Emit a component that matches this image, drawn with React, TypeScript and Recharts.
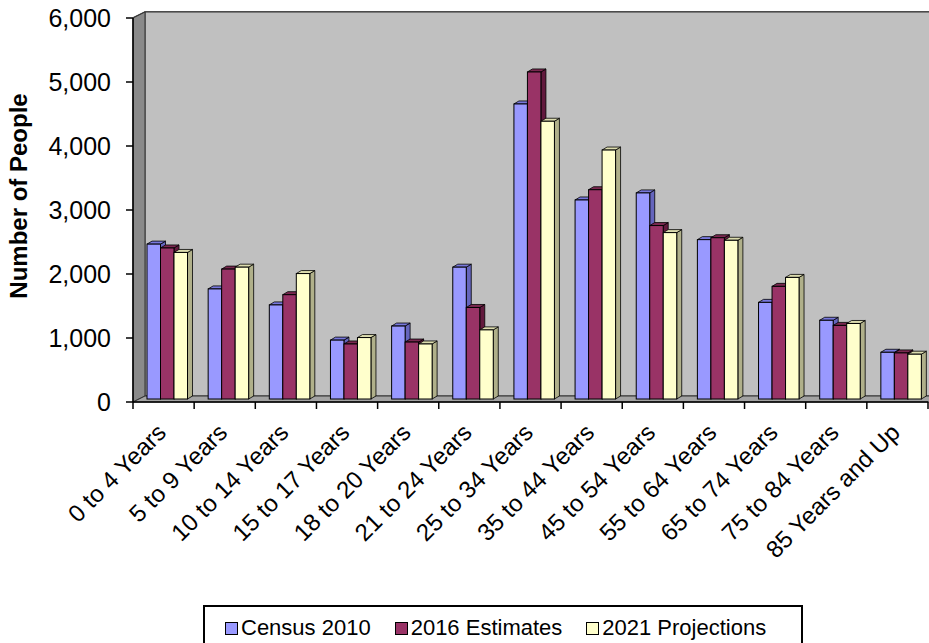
import React from 'react';
import * as RC from 'recharts';
import { BarChart, Bar, XAxis, YAxis, CartesianGrid, Legend } from 'recharts';

const categories = [
  '0 to 4 Years', '5 to 9 Years', '10 to 14 Years', '15 to 17 Years', '18 to 20 Years',
  '21 to 24 Years', '25 to 34 Years', '35 to 44 Years', '45 to 54 Years', '55 to 64 Years',
  '65 to 74 Years', '75 to 84 Years', '85 Years and Up',
];
const census2010 = [2420, 1720, 1470, 920, 1140, 2060, 4610, 3110, 3220, 2490, 1510, 1230, 730];
const estimates2016 = [2360, 2030, 1630, 860, 890, 1430, 5110, 3270, 2710, 2520, 1760, 1150, 720];
const projections2021 = [2290, 2060, 1960, 960, 860, 1080, 4340, 3890, 2600, 2480, 1900, 1180, 700];
const yTicks = [0, 1000, 2000, 3000, 4000, 5000, 6000];

const series = [
  { key: 'census', name: 'Census 2010', front: '#9999ff', top: '#7878dc', side: '#6565bd' },
  { key: 'est', name: '2016 Estimates', front: '#993366', top: '#7a2850', side: '#62193d' },
  { key: 'proj', name: '2021 Projections', front: '#ffffcc', top: '#dcdcae', side: '#b0b08a' },
];

const data = categories.map((name, i) => ({
  name,
  census: census2010[i],
  est: estimates2016[i],
  proj: projections2021[i],
}));

// chart size, front plot box and 3D wall offset
const W = 929;
const H = 643;
const L = 133;
const R = 928;
const T = 18;
const B = 402;
const XH = 20;
const WX = 12;
const WY = 6;
const BAND = (R - L) / categories.length;
const FONT = "Arial, 'Liberation Sans', sans-serif";

const usePlot = (RC as any).usePlotArea;

const Walls = () => {
  const area = usePlot ? usePlot() : null;
  const x0 = area ? area.x : L;
  const y0 = area ? area.y : T;
  const x1 = area ? area.x + area.width : R;
  const y1 = area ? area.y + area.height : B;
  return (
    <g>
      <rect x={x0 + WX} y={y0 - WY} width={x1 - x0 + 20} height={y1 - y0} fill="#c0c0c0" stroke="#333" strokeWidth={1} />
      <polygon points={`${x0},${y0} ${x0 + WX},${y0 - WY} ${x0 + WX},${y1 - WY} ${x0},${y1}`} fill="#8a8a8a" stroke="#333" strokeWidth={1} />
      <polygon points={`${x0},${y1} ${x0 + WX},${y1 - WY} ${x1 + WX + 20},${y1 - WY} ${x1 + 20},${y1}`} fill="#a3a3a3" stroke="#333" strokeWidth={1} />
    </g>
  );
};

const make3D = (front: string, top: string, side: string) => (props: any) => {
  const { x, y, width, height } = props;
  if (height == null || width == null) return <g />;
  const bx = x + 4;
  const by = y - 3;
  const d = 5;
  const dy = 3;
  return (
    <g>
      <polygon
        points={`${bx + width},${by} ${bx + width + d},${by - dy} ${bx + width + d},${by + height - dy} ${bx + width},${by + height}`}
        fill={side} stroke="#000" strokeWidth={0.8}
      />
      <polygon
        points={`${bx},${by} ${bx + d},${by - dy} ${bx + width + d},${by - dy} ${bx + width},${by}`}
        fill={top} stroke="#000" strokeWidth={0.8}
      />
      <rect x={bx} y={by} width={width} height={height} fill={front} stroke="#000" strokeWidth={1} />
    </g>
  );
};

const gridLine = (props: any) => {
  const { x1, y1, x2 } = props;
  return (
    <path
      key={`g-${y1}`}
      d={`M${x1},${y1} L${x1 + WX},${y1 - WY} L${x2 + WX},${y1 - WY}`}
      stroke="#333" strokeWidth={1.6} fill="none"
    />
  );
};

const XTick = (props: any) => {
  const { x, y, payload, index } = props;
  const half = BAND / 2;
  const tx = x + 4;
  const ty = y + 32;
  return (
    <g>
      <line x1={x - half} y1={y} x2={x - half} y2={y + 7} stroke="#000" strokeWidth={1.5} />
      {index === categories.length - 1 && (
        <line x1={x + half} y1={y} x2={x + half} y2={y + 7} stroke="#000" strokeWidth={1.5} />
      )}
      <text x={tx} y={ty} transform={`rotate(-45, ${tx}, ${ty})`} textAnchor="end"
        fontSize={24} fill="#000" fontFamily={FONT}>
        {payload.value}
      </text>
    </g>
  );
};

const YLabel = () => (
  <text x={27} y={196} transform="rotate(-90, 27, 196)" textAnchor="middle"
    fontSize={24} fontWeight="bold" fill="#000" fontFamily={FONT}>
    Number of People
  </text>
);

const LegendBox = () => (
  <div style={{
    border: '2px solid #000', background: '#fff', height: 46, boxSizing: 'border-box',
    display: 'flex', alignItems: 'center', paddingLeft: 20, fontFamily: FONT,
  }}>
    {series.map((s) => (
      <div key={s.key} style={{ display: 'flex', alignItems: 'center', marginRight: 24 }}>
        <span style={{
          width: 11, height: 11, background: s.front, border: '1.5px solid #000',
          display: 'inline-block', marginRight: 3,
        }} />
        <span style={{ fontSize: 22, color: '#000' }}>{s.name}</span>
      </div>
    ))}
  </div>
);

export default function App() {
  return (
    <div style={{ position: 'absolute', left: 0, top: 0, width: W, height: H, background: '#fff', fontFamily: FONT }}>
      <BarChart width={W} height={H} data={data}
        margin={{ top: T, right: W - R, bottom: H - B - XH, left: 0 }}
        barGap={0} barSize={13.5}>
        <Walls />
        <CartesianGrid vertical={false} horizontal={gridLine} fill="none" />
        <XAxis dataKey="name" interval={0} height={XH} tickSize={0} tickMargin={0} tickLine={false}
          axisLine={{ stroke: '#000', strokeWidth: 1.5 }} tick={<XTick />} />
        <YAxis width={L} domain={[0, 6000]} ticks={yTicks} interval={0}
          tickFormatter={(v: number) => v.toLocaleString('en-US')}
          tick={{ fontSize: 25, fill: '#000', fontFamily: FONT }}
          tickSize={7} tickMargin={15}
          tickLine={{ stroke: '#000', strokeWidth: 1.5 }}
          axisLine={{ stroke: '#000', strokeWidth: 1.5 }}
          label={<YLabel />}
        />
        {series.map((s) => (
          <Bar key={s.key} dataKey={s.key} name={s.name} fill={s.front} isAnimationActive={false}
            shape={make3D(s.front, s.top, s.side)} />
        ))}
        <Legend layout="horizontal" align="center" verticalAlign="middle"
          wrapperStyle={{ left: 203, top: 605, width: 600, height: 46 }}
          content={<LegendBox />} />
      </BarChart>
    </div>
  );
}
